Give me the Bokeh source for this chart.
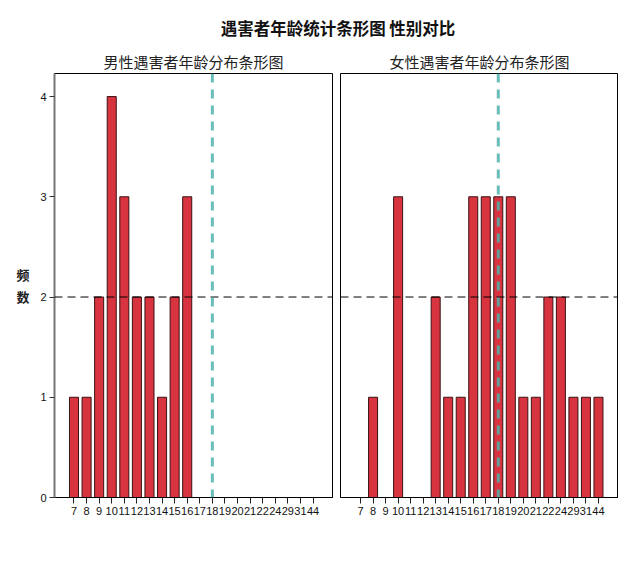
from bokeh.plotting import figure
from bokeh.models import FactorRange, Range1d, Span, FixedTicker, Div, ColumnDataSource
from bokeh.layouts import row, column
from bokeh.embed import file_html
from bokeh.resources import INLINE

# ---- data ----
main_title = "遇害者年龄统计条形图 性别对比"
male_title = "男性遇害者年龄分布条形图"
female_title = "女性遇害者年龄分布条形图"
y_label = "频\n数"
ages = ["7", "8", "9", "10", "11", "12", "13", "14", "15", "16",
        "17", "18", "19", "20", "21", "22", "24", "29", "31", "44"]
male_counts = [1, 1, 2, 4, 3, 2, 2, 1, 2, 3,
               0, 0, 0, 0, 0, 0, 0, 0, 0, 0]
female_counts = [0, 1, 0, 3, 0, 0, 2, 1, 1, 3,
                 3, 3, 3, 1, 1, 2, 2, 1, 1, 1]
y_ticks = [0, 1, 2, 3, 4]
cutoff_age = "18"
ref_count = 2

BAR = "#d8343f"
EDGE = "#3a1214"
TEAL = "#4fb3ae"
CJK = "Noto Sans CJK SC"
LAT = "Liberation Sans"


def make_panel(title, counts, show_y, pad, **kw):
    p = figure(x_range=FactorRange(factors=ages, range_padding=pad,
                                   range_padding_units="absolute"),
               y_range=Range1d(0, 4.23), output_backend="svg",
               toolbar_location=None, title=title, **kw)
    src = ColumnDataSource(dict(
        x=[a for a, c in zip(ages, counts) if c > 0],
        top=[c for c in counts if c > 0]))
    p.vbar(x="x", top="top", bottom=0, width=0.72, source=src,
           fill_color=BAR, line_color=EDGE, line_width=1)
    p.add_layout(Span(location=ref_count, dimension="width", line_color="black",
                      line_width=1, line_dash="8 5"))
    p.add_layout(Span(location=ages.index(cutoff_age) + 0.5, dimension="height",
                      line_color=TEAL, line_alpha=0.85, line_width=3, line_dash="9 7"))
    p.xgrid.visible = False
    p.ygrid.visible = False
    p.outline_line_color = "black"
    p.outline_line_width = 1
    p.outline_line_alpha = 1
    p.title.align = "center"
    p.title.text_font = CJK
    p.title.text_font_style = "normal"
    p.title.text_font_size = "15px"
    p.title.text_color = "#222222"
    p.title.standoff = 4
    xa = p.xaxis[0]
    xa.major_label_text_font = LAT
    xa.major_label_text_font_size = "11px"
    xa.major_label_text_color = "#111111"
    xa.major_tick_out = 6
    xa.major_tick_in = 0
    xa.major_label_standoff = 3
    xa.axis_line_color = "black"
    xa.major_tick_line_color = "#222222"
    ya = p.yaxis[0]
    ya.ticker = FixedTicker(ticks=y_ticks)
    ya.minor_tick_line_color = None
    if show_y:
        ya.major_label_text_font = LAT
        ya.major_label_text_font_size = "11px"
        ya.major_label_text_color = "#111111"
        ya.major_tick_out = 5
        ya.major_tick_in = 0
        ya.major_label_standoff = 3
        ya.axis_line_color = "#777777"
        ya.axis_line_width = 2
        ya.major_tick_line_color = "#333333"
        ya.axis_label = y_label
        ya.axis_label_orientation = "horizontal"
        ya.axis_label_text_font = CJK
        ya.axis_label_text_font_style = "bold"
        ya.axis_label_text_font_size = "13px"
        ya.axis_label_text_color = "#222222"
        ya.axis_label_standoff = 8
    else:
        ya.visible = False
    return p


p1 = make_panel(male_title, male_counts, True, 1.05,
                width=340, height=481, min_border_left=54, min_border_right=8,
                min_border_top=27, min_border_bottom=30)
p2 = make_panel(female_title, female_counts, False, 1.1,
                width=278, height=481, min_border_left=0, min_border_right=0,
                min_border_top=27, min_border_bottom=30)

header = Div(text=(f'<div style="width:618px;box-sizing:border-box;padding-left:48px;'
                   f'text-align:center;font-family:\'{CJK}\';'
                   f'font-size:16.5px;font-weight:bold;color:#111;line-height:20px;'
                   f'padding-top:13px;">{main_title}</div>'),
             width=618, height=36)

layout = column(header, row(p1, p2))
open("out.html", "w").write(file_html(layout, INLINE))
